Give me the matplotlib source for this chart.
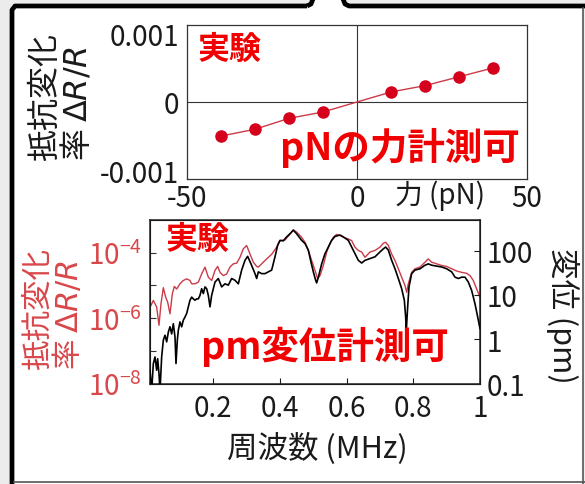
# 抵抗変化率のグラフ (力 / 周波数)
import numpy as np
import matplotlib as mpl
import matplotlib.pyplot as plt
from matplotlib.ticker import FixedLocator, FixedFormatter, NullLocator

# ---- データ ----
# 上: 力 (pN) と抵抗変化率
force = [-40, -30, -20, -10, 10, 20, 30, 40]
dr_force = [-0.00050, -0.00040, -0.00024, -0.000147, 0.000147, 0.00024, 0.00037, 0.00050]

# 下: 周波数 (MHz) と抵抗変化率 (10の指数), 変位 (pm, 10の指数)
freq_red = [0.013, 0.020, 0.030, 0.037, 0.043, 0.050, 0.057, 0.063, 0.070, 0.077,
            0.083, 0.090, 0.100, 0.110, 0.120, 0.130, 0.135, 0.145, 0.155, 0.165,
            0.175, 0.185, 0.195, 0.205, 0.213, 0.220, 0.230, 0.240, 0.250, 0.260,
            0.270, 0.280, 0.290, 0.300, 0.310, 0.320, 0.330, 0.335, 0.345, 0.360,
            0.375, 0.390, 0.400, 0.415, 0.430, 0.440, 0.450, 0.465, 0.475, 0.485,
            0.495, 0.505, 0.513, 0.520, 0.530, 0.540, 0.550, 0.560, 0.570, 0.580,
            0.590, 0.605, 0.615, 0.625, 0.635, 0.645, 0.655, 0.670, 0.685, 0.700,
            0.710, 0.717, 0.725, 0.735, 0.745, 0.755, 0.765, 0.775, 0.780, 0.785,
            0.795, 0.805, 0.820, 0.835, 0.845, 0.855, 0.870, 0.885, 0.900, 0.915,
            0.930, 0.945, 0.960, 0.970, 0.980, 0.990, 1.000]
dr_exp = [-5.61, -5.46, -5.66, -6.22, -5.56, -5.07, -5.36, -5.51, -5.87, -5.26,
          -5.03, -5.11, -4.95, -4.85, -4.80, -4.85, -4.95, -4.95, -4.90, -4.65,
          -4.44, -4.75, -4.85, -4.54, -4.42, -4.60, -4.70, -4.65, -4.44, -4.34,
          -4.32, -4.14, -3.88, -3.78, -4.04, -4.29, -4.42, -4.44, -4.34, -4.19,
          -4.05, -3.83, -3.63, -3.61, -3.43, -3.30, -3.37, -3.53, -3.68, -3.93,
          -4.24, -4.54, -4.80, -4.70, -4.39, -3.98, -3.71, -3.53, -3.44, -3.47,
          -3.53, -3.58, -3.63, -3.83, -3.93, -3.98, -4.14, -3.98, -3.93, -3.83,
          -3.71, -3.68, -3.78, -4.04, -4.24, -4.49, -4.75, -5.00, -5.21, -4.95,
          -4.60, -4.49, -4.44, -4.29, -4.19, -4.29, -4.34, -4.39, -4.42, -4.49,
          -4.56, -4.60, -4.63, -4.70, -4.85, -5.11, -5.36]

freq_blk = [0.010, 0.015, 0.020, 0.025, 0.030, 0.033, 0.037, 0.040, 0.045, 0.050,
            0.055, 0.060, 0.065, 0.070, 0.075, 0.080, 0.085, 0.088, 0.092, 0.095,
            0.100, 0.105, 0.110, 0.115, 0.120, 0.125, 0.130, 0.135, 0.140, 0.145,
            0.150, 0.155, 0.160, 0.165, 0.170, 0.175, 0.180, 0.185, 0.190, 0.195,
            0.200, 0.205, 0.215, 0.225, 0.235, 0.245, 0.255, 0.265, 0.275, 0.285,
            0.295, 0.303, 0.313, 0.325, 0.330, 0.335, 0.345, 0.355, 0.365, 0.375,
            0.385, 0.393, 0.400, 0.410, 0.420, 0.430, 0.440, 0.450, 0.465, 0.475,
            0.485, 0.493, 0.500, 0.507, 0.510, 0.515, 0.525, 0.535, 0.545, 0.555,
            0.565, 0.580, 0.590, 0.605, 0.615, 0.625, 0.635, 0.645, 0.655, 0.670,
            0.685, 0.700, 0.710, 0.717, 0.725, 0.735, 0.745, 0.755, 0.765, 0.773,
            0.777, 0.779, 0.783, 0.787, 0.795, 0.805, 0.820, 0.835, 0.845, 0.855,
            0.870, 0.885, 0.900, 0.915, 0.925, 0.935, 0.945, 0.955, 0.965, 0.975,
            0.985, 0.995, 1.000]
disp_exp = [-0.70, -1.17, -0.55, -0.40, -0.70, -0.44, -0.78, -1.17, -0.40, -0.02,
            0.09, -0.06, 0.16, 0.28, 0.12, 0.35, 0.05, -0.55, -0.02, 0.20,
            0.39, 0.28, 0.43, 0.50, 0.58, 0.73, 0.88, 0.95, 0.91, 0.88,
            0.91, 0.91, 0.99, 1.14, 1.03, 1.18, 1.14, 0.99, 0.73, 0.99,
            1.14, 1.29, 1.37, 1.18, 1.25, 1.22, 1.37, 1.33, 1.25, 1.56,
            1.78, 1.87, 1.70, 1.48, 1.37, 1.52, 1.48, 1.48, 1.52, 1.56,
            1.86, 2.12, 2.23, 2.22, 2.31, 2.38, 2.46, 2.38, 2.23, 2.16,
            2.01, 1.74, 1.52, 1.33, 1.27, 1.40, 1.70, 1.93, 2.08, 2.23,
            2.32, 2.35, 2.31, 2.23, 2.08, 1.93, 1.78, 1.72, 1.78, 1.82,
            1.86, 1.97, 2.04, 2.08, 2.01, 1.78, 1.59, 1.37, 1.14, 0.88,
            0.50, 0.20, 0.73, 1.18, 1.48, 1.56, 1.59, 1.67, 1.70, 1.67,
            1.65, 1.63, 1.59, 1.52, 1.40, 1.37, 1.40, 1.40, 1.29, 1.10,
            0.80, 0.43, 0.24]

# ---- 色 ----
red_text = '#f00000'
red_line = '#cc3a48'
red_dot = '#d5001c'
red_tick = '#d9474a'

mpl.rcParams['font.family'] = ['Noto Sans CJK JP', 'DejaVu Sans']
mpl.rcParams['axes.unicode_minus'] = False
mpl.rcParams['mathtext.fontset'] = 'dejavusans'

fig = plt.figure(figsize=(5.85, 4.85), dpi=100)
fig.patch.set_facecolor('#ececec')

# 外枠 (吹き出し) - ピクセル座標
bg = fig.add_axes([0, 0, 1, 1], zorder=-5)
bg.set_xlim(0, 585)
bg.set_ylim(485, 0)
bg.axis('off')
bg.fill([12, 12, 313, 313, 343, 343, 583, 583], [485, 7, 7, 0, 0, 7, 7, 485], color='white', lw=0)
bg.plot([12, 12, 15, 307], [485, 11, 7, 7], color='black', lw=3.4, solid_capstyle='butt')
bg.plot([307, 311, 313], [7, 5, 0], color='black', lw=3.4, solid_capstyle='butt')
bg.plot([343, 345, 349, 585], [0, 5, 7, 7], color='black', lw=3.4, solid_capstyle='butt')
bg.plot([583, 583], [9, 485], color='#555555', lw=1.2)
bg.plot([14, 585], [483, 483], color='#555555', lw=1.2)

# ---- 上のグラフ ----
ax1 = fig.add_axes([0.3197, 0.6289, 0.5812, 0.3175])
ax1.axhline(0, color='#333333', lw=0.8, zorder=1)
ax1.axvline(0, color='#333333', lw=0.8, zorder=1)
ax1.plot(force, dr_force, color=red_line, lw=1.0, zorder=2)
ax1.plot(force, dr_force, 'o', color=red_dot, markersize=8, zorder=3)
ax1.set_xlim(-50, 50)
ax1.set_ylim(-0.00113, 0.00113)
ax1.xaxis.set_major_locator(FixedLocator([-50, 0, 50]))
ax1.xaxis.set_major_formatter(FixedFormatter(['-50', '0', '50']))
ax1.yaxis.set_major_locator(FixedLocator([-0.001, 0, 0.001]))
ax1.yaxis.set_major_formatter(FixedFormatter(['-0.001', '0', '0.001']))
ax1.tick_params(length=0, labelsize=20, colors='#1a1a1a')
ax1.tick_params(axis='y', pad=6)
ax1.tick_params(axis='x', pad=3)
for sp in ax1.spines.values():
    sp.set_color('#333333')
    sp.set_linewidth(0.9)
ax1.set_ylabel('抵抗変化\n率 $\\mathit{\\Delta R/R}$', fontsize=23, color='#1a1a1a',
               linespacing=0.92, multialignment='left', va='center')
ax1.yaxis.set_label_coords(-0.37, 0.54)
ax1.text(0.745, -0.105, '力 (pN)', transform=ax1.transAxes, fontsize=20,
         color='#1a1a1a', ha='center', va='center')
ax1.text(0.125, 0.845, '実験', transform=ax1.transAxes, fontsize=23,
         fontweight='bold', color=red_text, ha='center', va='center')
ax1.text(0.627, 0.21, 'pNの力計測可', transform=ax1.transAxes, fontsize=27,
         fontweight='bold', color=red_text, ha='center', va='center')

# ---- 下のグラフ ----
ax2 = fig.add_axes([0.2564, 0.2072, 0.5641, 0.3371])
ax3 = ax2.twinx()
ax2.plot(freq_red, np.power(10.0, dr_exp), color=red_line, lw=1.0, zorder=2)
ax3.plot(freq_blk, np.power(10.0, disp_exp), color='black', lw=1.2, zorder=3)
ax2.set_xlim(0.01, 1.0)
ax2.set_yscale('log')
ax2.set_ylim(1e-8, 1e-3)
ax3.set_yscale('log')
ax3.set_ylim(0.1, 490)

ax2.xaxis.set_major_locator(FixedLocator([0.2, 0.4, 0.6, 0.8, 1.0]))
ax2.xaxis.set_major_formatter(FixedFormatter(['0.2', '0.4', '0.6', '0.8', '1']))
ax2.yaxis.set_major_locator(FixedLocator([1e-8, 1e-7, 1e-6, 1e-5, 1e-4]))
ax2.yaxis.set_major_formatter(FixedFormatter(['$\\mathdefault{10^{-8}}$', '',
                                              '$\\mathdefault{10^{-6}}$', '',
                                              '$\\mathdefault{10^{-4}}$']))
ax2.yaxis.set_minor_locator(NullLocator())
ax3.yaxis.set_major_locator(FixedLocator([0.1, 1, 10, 100]))
ax3.yaxis.set_major_formatter(FixedFormatter(['0.1', '1', '10', '100']))
ax3.yaxis.set_minor_locator(NullLocator())

ax2.tick_params(axis='x', direction='in', length=4, width=0.8, labelsize=20,
                colors='#1a1a1a', pad=7)
ax2.tick_params(axis='y', direction='in', length=4, width=0.8, labelsize=20,
                color='#333333', labelcolor=red_tick, pad=6)
ax3.tick_params(axis='y', direction='in', length=4, width=0.8, labelsize=20,
                colors='#1a1a1a', pad=5)
for sp in ax3.spines.values():
    sp.set_color('#222222')
    sp.set_linewidth(1.1)

ax2.set_ylabel('抵抗変化\n率 $\\mathit{\\Delta R/R}$', fontsize=22, color=red_tick,
               linespacing=0.92, multialignment='left', va='center')
ax2.yaxis.set_label_coords(-0.29, 0.46)
ax3.set_ylabel('変位 (pm)', fontsize=22, color='#1a1a1a', rotation=270,
               va='center', ha='center')
ax3.yaxis.set_label_coords(1.25, 0.42)
ax2.set_xlabel('周波数 (MHz)', fontsize=22, color='#1a1a1a', va='center')
ax2.xaxis.set_label_coords(0.506, -0.395)

ax3.text(0.143, 0.884, '実験', transform=ax3.transAxes, fontsize=23,
         fontweight='bold', color=red_text, ha='center', va='center')
ax3.text(0.53, 0.23, 'pm変位計測可', transform=ax3.transAxes, fontsize=27,
         fontweight='bold', color=red_text, ha='center', va='center')

plt.savefig('out.png', dpi=100, facecolor=fig.get_facecolor())
